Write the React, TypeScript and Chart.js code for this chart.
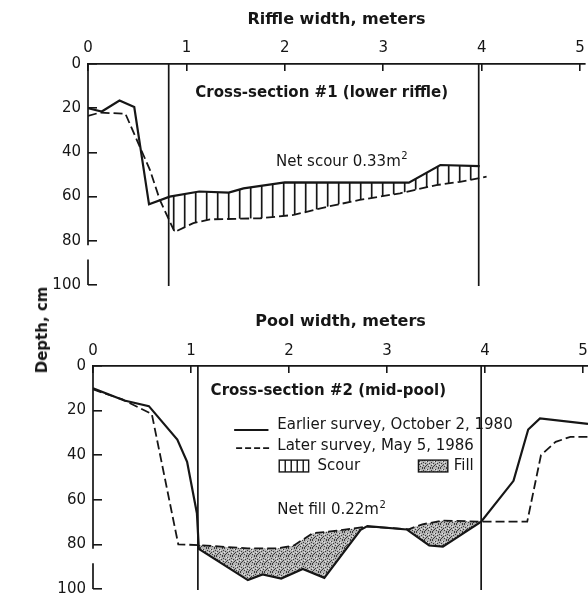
import React, { useEffect, useRef } from 'react';
import { Chart, registerables } from 'chart.js';

Chart.register(...registerables);

const FONT = "'DejaVu Sans', 'Liberation Sans', sans-serif";
const INK = '#161616';

// Shared axes: width across the channel (m) and depth below the reference (cm)
const widthTicks = [0, 1, 2, 3, 4, 5];
const depthTicks = [0, 20, 40, 60, 80, 100];
const depthAxisBreak = [82, 88.5];

// Cross-section #1 (lower riffle)
const riffleEarlierX = [0, 0.14, 0.32, 0.47, 0.62, 0.83, 1.13, 1.43, 1.58, 2.0, 3.26, 3.58, 3.98];
const riffleEarlierDepth = [20, 21.5, 16.5, 19.5, 63.5, 60, 57.7, 58.2, 56.3, 53.6, 53.7, 45.7, 46.2];
const riffleLaterX = [0, 0.12, 0.38, 0.63, 0.73, 0.88, 1.07, 1.24, 1.75, 2.09, 2.43, 2.76, 3.17, 3.54, 3.78, 4.05];
const riffleLaterDepth = [23.5, 22, 22.5, 48, 61.5, 76, 72, 70.3, 69.8, 68.3, 64.6, 61.5, 58.5, 54.8, 53.3, 51];
const riffleEdges = [0.82, 3.97];

// Cross-section #2 (mid-pool)
const poolEarlierX = [0, 0.32, 0.57, 0.86, 0.96, 1.06, 1.08, 1.58, 1.73, 1.92, 2.14, 2.36, 2.73, 2.8, 3.2, 3.43, 3.57, 3.96, 4.29, 4.44, 4.56, 5.05];
const poolEarlierDepth = [10, 15.5, 18, 33, 43, 66, 82, 96, 93.5, 95.3, 91, 95, 73.5, 71.8, 73.3, 80.5, 81, 69.8, 51.5, 28.5, 23.5, 26];
const poolLaterX = [0, 0.3, 0.6, 0.87, 1.08, 1.58, 1.88, 2.05, 2.24, 2.5, 2.8, 3.22, 3.36, 3.57, 3.96, 4.43, 4.57, 4.72, 4.87, 5.05];
const poolLaterDepth = [10.5, 15, 21.5, 80, 80.3, 81.8, 81.8, 80.5, 75, 73.8, 72, 73.2, 71, 69.3, 69.8, 69.8, 40, 34, 31.8, 31.8];
const poolEdges = [1.07, 3.96];

type Pt = { x: number; y: number };
const pairs = (xs: number[], ys: number[]): Pt[] => xs.map((x, i) => ({ x, y: ys[i] }));

interface PanelSpec {
  axisTitle: string;
  titlePad: number;
  tickPad: number;
  axisH: number;
  axisW: number;
  padRight: number;
  padBottom: number;
  earlierX: number[];
  earlierDepth: number[];
  laterX: number[];
  laterDepth: number[];
  edges: number[];
  change: 'scour' | 'fill';
  caption: string;
  captionAt: [number, number];
  net: string;
  netAt: [number, number];
  legend: boolean;
}

// grey stipple used for areas of fill
function makeStipple(ctx: CanvasRenderingContext2D): CanvasPattern {
  const tile = document.createElement('canvas');
  tile.width = 8;
  tile.height = 8;
  const c = tile.getContext('2d')!;
  c.fillStyle = '#b4b4b4';
  c.fillRect(0, 0, 8, 8);
  c.fillStyle = '#3c3c3c';
  const dots = [[0, 0], [3, 1], [6, 0], [1, 3], [5, 3], [7, 5], [2, 5], [4, 6], [0, 7], [6, 7], [3, 4], [7, 2], [1, 6]];
  dots.forEach(([a, b]) => c.fillRect(a, b, 1, 1));
  c.fillStyle = '#e6e6e6';
  [[2, 1], [5, 5], [0, 4], [4, 2]].forEach(([a, b]) => c.fillRect(a, b, 1, 1));
  return ctx.createPattern(tile, 'repeat')!;
}

function tracePath(ctx: CanvasRenderingContext2D, a: Pt[], b: Pt[]) {
  ctx.beginPath();
  a.forEach((p, i) => (i ? ctx.lineTo(p.x, p.y) : ctx.moveTo(p.x, p.y)));
  for (let i = b.length - 1; i >= 0; i--) ctx.lineTo(b[i].x, b[i].y);
  ctx.closePath();
}

function textWithSup(ctx: CanvasRenderingContext2D, text: string, sup: string, x: number, y: number) {
  ctx.font = `15px ${FONT}`;
  ctx.fillText(text, x, y);
  const w = ctx.measureText(text).width;
  ctx.font = `10px ${FONT}`;
  ctx.fillText(sup, x + w + 0.5, y - 5);
}

function panelPlugin(spec: PanelSpec) {
  return {
    id: 'crossSection',
    beforeDatasetsDraw(chart: any) {
      const { ctx, chartArea: a, scales } = chart;
      const xs = scales.x;
      const earlier = chart.getDatasetMeta(0).data as Pt[];
      const later = chart.getDatasetMeta(1).data as Pt[];
      const x1 = xs.getPixelForValue(spec.edges[0]);
      const x2 = xs.getPixelForValue(spec.edges[1]);
      ctx.save();
      ctx.beginPath();
      ctx.rect(x1, a.top, x2 - x1, a.bottom - a.top);
      ctx.clip();
      tracePath(ctx, earlier, later);
      ctx.clip();
      if (spec.change === 'scour') {
        ctx.strokeStyle = INK;
        ctx.lineWidth = 1.7;
        ctx.beginPath();
        for (let x = x1 + 5; x < x2; x += 11) {
          ctx.moveTo(x, a.top);
          ctx.lineTo(x, a.bottom);
        }
        ctx.stroke();
      } else {
        ctx.fillStyle = makeStipple(ctx);
        ctx.fillRect(x1, a.top, x2 - x1, a.bottom - a.top);
      }
      ctx.restore();
    },
    afterDatasetsDraw(chart: any) {
      const { ctx, chartArea: a, scales } = chart;
      const X = (v: number) => scales.x.getPixelForValue(v);
      const Y = (v: number) => scales.y.getPixelForValue(v);
      ctx.save();
      ctx.strokeStyle = INK;
      ctx.lineCap = 'butt';

      // depth axis, broken just below 80 cm
      ctx.lineWidth = 1.7;
      ctx.beginPath();
      ctx.moveTo(a.left, a.top);
      ctx.lineTo(a.left, Y(depthAxisBreak[0]));
      ctx.moveTo(a.left, Y(depthAxisBreak[1]));
      ctx.lineTo(a.left, a.bottom);
      ctx.stroke();

      // edges of the riffle / pool
      ctx.lineWidth = 1.7;
      ctx.beginPath();
      spec.edges.forEach((e) => {
        const px = X(e);
        ctx.moveTo(px, a.top);
        ctx.lineTo(px, a.bottom + 1);
      });
      ctx.stroke();

      // captions
      ctx.fillStyle = INK;
      ctx.textBaseline = 'middle';
      ctx.textAlign = 'left';
      ctx.font = `bold 15px ${FONT}`;
      ctx.fillText(spec.caption, X(spec.captionAt[0]), Y(spec.captionAt[1]));
      textWithSup(ctx, spec.net, '2', X(spec.netAt[0]), Y(spec.netAt[1]));

      if (spec.legend) {
        ctx.font = `15px ${FONT}`;
        // earlier survey
        ctx.lineWidth = 2.2;
        ctx.beginPath();
        ctx.moveTo(X(1.44), Y(28.7));
        ctx.lineTo(X(1.79), Y(28.7));
        ctx.stroke();
        ctx.fillText(chart.data.datasets[0].label, X(1.88), Y(26.5));
        // later survey
        ctx.lineWidth = 1.8;
        ctx.setLineDash([6, 3]);
        ctx.beginPath();
        ctx.moveTo(X(1.46), Y(36.8));
        ctx.lineTo(X(1.81), Y(36.8));
        ctx.stroke();
        ctx.setLineDash([]);
        ctx.fillText(chart.data.datasets[1].label, X(1.88), Y(35.9));
        // scour swatch
        const sx1 = X(1.9), sx2 = X(2.2), sy1 = Y(42.2), sy2 = Y(47.5);
        ctx.lineWidth = 1.4;
        ctx.strokeRect(sx1, sy1, sx2 - sx1, sy2 - sy1);
        ctx.beginPath();
        for (let x = sx1 + 6; x < sx2 - 2; x += 6) {
          ctx.moveTo(x, sy1);
          ctx.lineTo(x, sy2);
        }
        ctx.stroke();
        ctx.fillText('Scour', X(2.29), Y(44.8));
        // fill swatch
        const fx1 = X(3.32), fx2 = X(3.62);
        ctx.fillStyle = makeStipple(ctx);
        ctx.fillRect(fx1, sy1, fx2 - fx1, sy2 - sy1);
        ctx.strokeRect(fx1, sy1, fx2 - fx1, sy2 - sy1);
        ctx.fillStyle = INK;
        ctx.fillText('Fill', X(3.68), Y(44.8));
      }
      ctx.restore();
    },
  };
}

function buildConfig(spec: PanelSpec): any {
  const tickFont = { family: FONT, size: 15 };
  return {
    type: 'line',
    data: {
      datasets: [
        {
          label: 'Earlier survey, October 2, 1980',
          data: pairs(spec.earlierX, spec.earlierDepth),
          borderColor: INK,
          borderWidth: 2.2,
          pointRadius: 0,
          tension: 0,
          fill: false,
        },
        {
          label: 'Later survey, May 5, 1986',
          data: pairs(spec.laterX, spec.laterDepth),
          borderColor: INK,
          borderWidth: 1.8,
          borderDash: [9, 4],
          pointRadius: 0,
          tension: 0,
          fill: false,
        },
      ],
    },
    options: {
      animation: false,
      responsive: false,
      maintainAspectRatio: false,
      layout: { padding: { left: 0, top: 0, right: spec.padRight, bottom: spec.padBottom } },
      plugins: { legend: { display: false }, tooltip: { enabled: false } },
      scales: {
        x: {
          type: 'linear',
          position: 'top',
          min: 0,
          max: 5.05,
          afterBuildTicks: (s: any) => {
            s.ticks = widthTicks.map((value) => ({ value }));
          },
          afterFit: (s: any) => {
            s.height = spec.axisH;
            s.paddingLeft = 0;
            s.paddingRight = 0;
          },
          ticks: { font: tickFont, color: INK, padding: spec.tickPad, autoSkip: false, maxRotation: 0 },
          grid: { display: true, drawOnChartArea: false, drawTicks: true, tickLength: -7, color: INK, lineWidth: 1.6 },
          border: { display: true, color: INK, width: 1.7 },
          title: {
            display: true,
            text: spec.axisTitle,
            color: INK,
            font: { family: FONT, size: 16, weight: 'bold' },
            padding: { top: spec.titlePad, bottom: 0 },
          },
        },
        y: {
          type: 'linear',
          reverse: true,
          min: 0,
          max: 100,
          afterBuildTicks: (s: any) => {
            s.ticks = depthTicks.map((value) => ({ value }));
          },
          afterFit: (s: any) => {
            s.width = spec.axisW;
            s.paddingTop = 0;
            s.paddingBottom = 0;
          },
          ticks: { font: tickFont, color: INK, padding: 16 },
          grid: { display: true, drawOnChartArea: false, drawTicks: true, tickLength: -9, color: INK, lineWidth: 1.6 },
          border: { display: false },
        },
      },
    },
    plugins: [panelPlugin(spec)],
  };
}

const riffleSpec: PanelSpec = {
  axisTitle: 'Riffle width, meters',
  titlePad: 10,
  tickPad: 14,
  axisH: 64,
  axisW: 88,
  padRight: 3,
  padBottom: 15,
  earlierX: riffleEarlierX,
  earlierDepth: riffleEarlierDepth,
  laterX: riffleLaterX,
  laterDepth: riffleLaterDepth,
  edges: riffleEdges,
  change: 'scour',
  caption: 'Cross-section #1 (lower riffle)',
  captionAt: [1.09, 13.1],
  net: 'Net scour 0.33m',
  netAt: [1.91, 44.3],
  legend: false,
};

const poolSpec: PanelSpec = {
  axisTitle: 'Pool width, meters',
  titlePad: 12,
  tickPad: 13,
  axisH: 66,
  axisW: 93,
  padRight: 0,
  padBottom: 7,
  earlierX: poolEarlierX,
  earlierDepth: poolEarlierDepth,
  laterX: poolLaterX,
  laterDepth: poolLaterDepth,
  edges: poolEdges,
  change: 'fill',
  caption: 'Cross-section #2 (mid-pool)',
  captionAt: [1.2, 11.2],
  net: 'Net fill 0.22m',
  netAt: [1.88, 64.6],
  legend: true,
};

function Panel({ spec, top, height }: { spec: PanelSpec; top: number; height: number }) {
  const ref = useRef<HTMLCanvasElement>(null);
  useEffect(() => {
    const chart = new Chart(ref.current!, buildConfig(spec));
    return () => chart.destroy();
  }, [spec]);
  return (
    <canvas
      ref={ref}
      width={588}
      height={height}
      style={{ position: 'absolute', left: 0, top, width: 588, height }}
    />
  );
}

export default function App() {
  return (
    <div style={{ position: 'absolute', left: 0, top: 0, width: 588, height: 596, background: '#fff', overflow: 'hidden' }}>
      <Panel spec={riffleSpec} top={0} height={300} />
      <Panel spec={poolSpec} top={300} height={296} />
      <div
        style={{
          position: 'absolute',
          left: 42,
          top: 330,
          transform: 'translate(-50%, -50%) rotate(-90deg)',
          font: `bold 15px ${FONT}`,
          color: INK,
          whiteSpace: 'nowrap',
        }}
      >
        Depth, cm
      </div>
    </div>
  );
}
